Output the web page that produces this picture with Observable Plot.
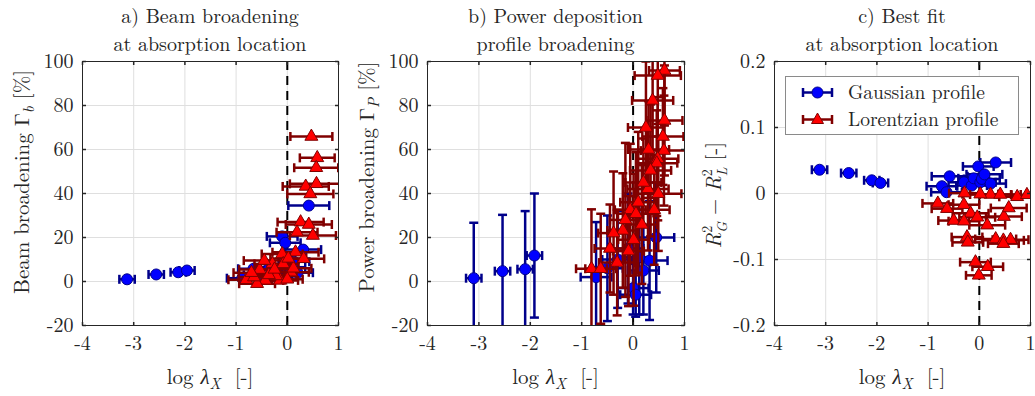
<!DOCTYPE html>
<html>
<head>
<meta charset="utf-8">
<script src="https://cdn.jsdelivr.net/npm/d3@7"></script>
<script src="https://cdn.jsdelivr.net/npm/@observablehq/plot@0.6"></script>
<style>
  html, body { margin: 0; padding: 0; background: #fff; }
  #chart { position: relative; width: 1035px; height: 396px; background: #fff; overflow: hidden;
           font-family: "Latin Modern Roman", "Liberation Serif", serif; color: #262626; }
  .panel { position: absolute; top: 0; }
  .title { position: absolute; text-align: center; font-size: 20px; line-height: 20px; height: 20px; white-space: nowrap;
           font-family: "Latin Modern Roman", "Liberation Serif", serif; }
  .legend { position: absolute; background: #fff; border: 1px solid #8a8a8a; box-sizing: border-box;
            font-family: "Latin Modern Roman", "Liberation Serif", serif; }
</style>
</head>
<body>
<div id="chart"></div>
<script>
// log λ_X axis (shared by the three panels)
const xTicks = [-4, -3, -2, -1, 0, 1];
const broadTicks = [-20, 0, 20, 40, 60, 80, 100];
const fitTicks = [-0.2, -0.1, 0, 0.1, 0.2];

// a) beam broadening Γ_b [%]: [log λ_X, error in log λ_X, Γ_b]
const beamGauss = [
  [-3.13, 0.15, 1.0], [-2.56, 0.15, 3.2], [-2.13, 0.15, 4.2], [-1.96, 0.15, 5.0],
  [-0.88, 0.30, 1.5], [-0.66, 0.30, 5.8], [-0.55, 0.30, 3.0], [-0.35, 0.30, 6.5],
  [-0.20, 0.30, 2.0], [-0.10, 0.30, 20.5], [-0.04, 0.30, 17.6], [0.05, 0.30, 6.5],
  [0.13, 0.30, 9.0], [0.20, 0.30, 4.0], [0.31, 0.35, 14.5], [0.42, 0.40, 34.5]
];
const beamLor = [
  [0.47, 0.41, 65.9], [0.585, 0.34, 56.2], [0.565, 0.43, 51.7], [0.57, 0.52, 44.4],
  [0.36, 0.45, 43.2], [0.45, 0.45, 39.8], [0.26, 0.45, 27.0], [0.42, 0.45, 25.9],
  [0.19, 0.40, 22.4], [0.50, 0.45, 20.9], [0.16, 0.45, 13.3], [0.32, 0.40, 10.3],
  [-0.10, 0.40, 12.5], [-0.54, 0.40, 5.4], [-0.80, 0.35, 0.8], [-0.43, 0.35, 0.5],
  [-0.14, 0.35, 0.5], [-0.29, 0.35, 8.0], [0.07, 0.35, 4.2], [-0.59, 0.35, -1.0],
  [-0.08, 0.30, 8.0], [-0.22, 0.40, 2.5], [0.00, 0.30, 1.0], [-0.36, 0.30, 3.0],
  [-0.65, 0.30, 2.0], [0.12, 0.35, 6.0], [-0.45, 0.40, 9.5], [-0.25, 0.35, 5.5],
  [0.02, 0.35, 10.5], [-0.70, 0.35, 4.0]
];

// b) power deposition broadening Γ_P [%]: [log λ_X, error, Γ_P, error in Γ_P]
const powGauss = [
  [-3.10, 0.15, 1.5, 25.2], [-2.54, 0.15, 4.7, 25.6], [-2.10, 0.15, 5.6, 26.4], [-1.92, 0.15, 11.8, 28.2],
  [-0.72, 0.30, 2.0, 25], [-0.50, 0.30, 6, 24], [-0.30, 0.30, 10, 22], [-0.10, 0.30, 15, 25],
  [0.00, 0.30, -3, 12], [0.05, 0.30, -6, 10], [0.12, 0.30, 11, 26], [0.20, 0.30, 5, 20],
  [0.32, 0.35, 9.5, 27], [0.45, 0.35, 20, 25]
];
const powLor = [
  [0.61, 0.30, 95.9, 25], [0.48, 0.45, 93.6, 22], [0.38, 0.40, 82.3, 28], [0.61, 0.35, 73.2, 25],
  [0.58, 0.40, 65.9, 22], [0.60, 0.45, 59.5, 25], [0.48, 0.40, 55.8, 28], [0.46, 0.40, 53.8, 24],
  [0.34, 0.40, 50.5, 30], [0.29, 0.40, 42.1, 28], [0.49, 0.45, 39.9, 26], [0.41, 0.30, 32.6, 25],
  [-0.055, 0.30, 32.6, 30], [0.056, 0.35, 30.8, 28], [0.17, 0.30, 25.9, 27], [-0.20, 0.30, 23.2, 26],
  [0.01, 0.30, 19.0, 30], [-0.09, 0.30, 13.8, 25], [-0.31, 0.35, 8.6, 24], [-0.81, 0.30, 5.8, 27],
  [-0.63, 0.30, 5.8, 25], [-0.45, 0.30, 15, 20], [0.20, 0.35, 45, 20], [0.30, 0.40, 60, 22],
  [-0.38, 0.30, 22, 28], [-0.15, 0.30, 28, 35], [0.10, 0.35, 36, 32], [0.25, 0.35, 70, 30]
];

// c) best fit R²_G − R²_L [-]: [log λ_X, error, difference]
const fitGauss = [
  [-3.12, 0.15, 0.036], [-2.55, 0.15, 0.031], [-2.10, 0.15, 0.020], [-1.93, 0.15, 0.016],
  [-0.73, 0.30, 0.011], [-0.64, 0.30, 0.002], [-0.58, 0.35, 0.026], [-0.30, 0.30, 0.017],
  [-0.15, 0.30, 0.012], [-0.11, 0.30, 0.023], [-0.02, 0.30, 0.041], [0.02, 0.30, 0.017],
  [0.05, 0.35, 0.022], [0.10, 0.35, 0.029], [0.22, 0.30, 0.015], [0.32, 0.30, 0.047]
];
const fitLor = [
  [-0.29, 0.30, 0.0005], [-0.81, 0.30, -0.015], [-0.63, 0.30, -0.023], [-0.30, 0.30, -0.017],
  [-0.17, 0.35, -0.030], [-0.50, 0.30, -0.041], [-0.30, 0.30, -0.042], [-0.04, 0.35, -0.036],
  [0.155, 0.35, -0.048], [0.48, 0.35, -0.035], [0.575, 0.35, -0.022], [0.22, 0.40, -0.0015],
  [0.41, 0.40, -0.0015], [0.74, 0.35, -0.005], [0.93, 0.30, -0.002], [0.02, 0.35, -0.001],
  [-0.24, 0.30, -0.066], [-0.225, 0.30, -0.074], [0.32, 0.40, -0.069], [0.47, 0.40, -0.071],
  [0.61, 0.35, -0.070], [0.47, 0.30, -0.076], [-0.075, 0.30, -0.104], [0.165, 0.30, -0.111],
  [-0.01, 0.25, -0.124]
];

const blueFill = "#0000ff", blueLine = "#00008b";
const redFill = "#ff0000", redLine = "#800000";
const ink = "#262626";
const font = '"Latin Modern Roman", "Liberation Serif", serif';

// custom symbols: error-bar caps and inward axis ticks (length = r)
const seg = (x0, y0, x1, y1) => ({draw(c, s) { const h = Math.sqrt(s / Math.PI); c.moveTo(x0 * h, y0 * h); c.lineTo(x1 * h, y1 * h); }});
const vCap = seg(0, -1, 0, 1);
const hCap = seg(-1, 0, 1, 0);
const tickUp = seg(0, 0, 0, -1);
const tickDown = seg(0, 0, 0, 1);
const tickRight = seg(0, 0, 1, 0);
const tickLeft = seg(0, 0, -1, 0);

function seriesMarks(data, line, fill, symbol, r, withYErr) {
  const bar = {stroke: line, strokeWidth: 2.5, clip: true};
  const cap = {r: 4.5, stroke: line, strokeWidth: 2.5, clip: true};
  const marks = [
    Plot.ruleY(data, {y: d => d[2], x1: d => d[0] - d[1], x2: d => d[0] + d[1], ...bar}),
    Plot.dot(data, {x: d => d[0] - d[1], y: d => d[2], symbol: vCap, ...cap}),
    Plot.dot(data, {x: d => d[0] + d[1], y: d => d[2], symbol: vCap, ...cap})
  ];
  if (withYErr) {
    marks.push(
      Plot.ruleX(data, {x: d => d[0], y1: d => d[2] - d[3], y2: d => d[2] + d[3], ...bar}),
      Plot.dot(data, {x: d => d[0], y: d => d[2] - d[3], symbol: hCap, ...cap}),
      Plot.dot(data, {x: d => d[0], y: d => d[2] + d[3], symbol: hCap, ...cap})
    );
  }
  marks.push(Plot.dot(data, {x: d => d[0], y: d => d[2], symbol, r, fill, stroke: line, strokeWidth: 1, clip: true}));
  return marks;
}

function panel({left, marginLeft, marginRight, yDomain, yTicks, gauss, lor, yErr}) {
  const svg = Plot.plot({
    width: 345, height: 396,
    marginLeft, marginRight, marginTop: 61, marginBottom: 71,
    x: {domain: [-4, 1]},
    y: {domain: yDomain},
    style: {fontFamily: font, fontSize: "20px", color: ink, background: "transparent", overflow: "visible"},
    marks: [
      Plot.gridX(xTicks, {stroke: "#dfdfdf", strokeOpacity: 1}),
      Plot.gridY(yTicks, {stroke: "#dfdfdf", strokeOpacity: 1}),
      Plot.ruleX([0], {stroke: "#000", strokeWidth: 2, strokeDasharray: "9,6"}),
      ...seriesMarks(gauss, blueLine, blueFill, "circle", 5.5, yErr),
      ...seriesMarks(lor, redLine, redFill, "triangle", 4.8, yErr),
      Plot.dot(xTicks, {x: d => d, frameAnchor: "bottom", symbol: tickUp, r: 3.5, stroke: ink}),
      Plot.dot(xTicks, {x: d => d, frameAnchor: "top", symbol: tickDown, r: 3.5, stroke: ink}),
      Plot.dot(yTicks, {y: d => d, frameAnchor: "left", symbol: tickRight, r: 3.5, stroke: ink}),
      Plot.dot(yTicks, {y: d => d, frameAnchor: "right", symbol: tickLeft, r: 3.5, stroke: ink}),
      Plot.axisX({ticks: xTicks, tickFormat: d => String(d), tickSize: 0, tickPadding: 10, label: null, fontFamily: font}),
      Plot.axisY({ticks: yTicks, tickFormat: d => String(d), tickSize: 0, tickPadding: 9, label: null, fontFamily: font}),
      Plot.frame({stroke: ink, strokeWidth: 1})
    ]
  });
  svg.classList.add("panel");
  svg.style.left = left + "px";
  return svg;
}

const chart = document.getElementById("chart");

const panels = [
  {left: 0, marginLeft: 82, marginRight: 7, yDomain: [-20, 100], yTicks: broadTicks, gauss: beamGauss, lor: beamLor, yErr: false,
   title: ["a) Beam broadening", "at absorption location"]},
  {left: 345, marginLeft: 82, marginRight: 6, yDomain: [-20, 100], yTicks: broadTicks, gauss: powGauss, lor: powLor, yErr: true,
   title: ["b) Power deposition", "profile broadening"]},
  {left: 690, marginLeft: 84, marginRight: 5, yDomain: [-0.2, 0.2], yTicks: fitTicks, gauss: fitGauss, lor: fitLor, yErr: false,
   title: ["c) Best fit", "at absorption location"]}
];

const svgs = panels.map(p => {
  const svg = panel(p);
  chart.appendChild(svg);
  const cx = p.left + p.marginLeft + (345 - p.marginLeft - p.marginRight) / 2;
  p.title.forEach((line, k) => {
    const t = document.createElement("div");
    t.className = "title";
    t.style.left = (cx - 150) + "px";
    t.style.width = "300px";
    t.style.top = (5 + 28 * k) + "px";
    t.textContent = line;
    chart.appendChild(t);
  });
  return svg;
});

// axis labels with sub- and superscripts
function addText(svg, x, y, rotate, parts) {
  const t = d3.select(svg).append("text")
    .attr("transform", `translate(${x},${y})` + (rotate ? " rotate(-90)" : ""))
    .attr("text-anchor", "middle")
    .attr("fill", ink)
    .attr("font-family", font)
    .attr("font-size", 21);
  parts.forEach(p => {
    const s = t.append("tspan").text(p.t);
    if (p.italic) s.attr("font-style", "italic");
    if (p.size) s.attr("font-size", p.size);
    if (p.dy) s.attr("dy", p.dy);
    if (p.dx) s.attr("dx", p.dx);
  });
}

const xLabel = [
  {t: "log "}, {t: "λ", italic: true}, {t: "X", italic: true, size: 15, dy: 5}, {t: "  [-]", dy: -5}
];
svgs.forEach((svg, i) => {
  const p = panels[i];
  const cx = p.marginLeft + (345 - p.marginLeft - p.marginRight) / 2;
  addText(svg, cx, 384, false, xLabel);
});
addText(svgs[0], 29, 182, true, [
  {t: "Beam broadening Γ"}, {t: "b", italic: true, size: 15, dy: 5}, {t: " [%]", dy: -5}
]);
addText(svgs[1], 29, 177, true, [
  {t: "Power broadening Γ"}, {t: "P", italic: true, size: 15, dy: 5}, {t: " [%]", dy: -5}
]);
addText(svgs[2], 31, 195, true, [
  {t: "R", italic: true}, {t: "2", size: 14, dy: -9}, {t: "G", italic: true, size: 14, dx: -7, dy: 15},
  {t: " − ", dy: -6}, {t: "R", italic: true}, {t: "2", size: 14, dy: -9}, {t: "L", italic: true, size: 14, dx: -7, dy: 15},
  {t: " [-]", dy: -6}
]);

// legend for panel c
const legend = document.createElement("div");
legend.className = "legend";
Object.assign(legend.style, {left: "785px", top: "76px", width: "234px", height: "59px"});
const entry = (y, line, fill, shape, label) => `
  <div style="position:absolute;left:0;top:${y}px;height:27px;width:100%;">
    <svg width="60" height="27" style="position:absolute;left:0;top:0">
      <line x1="17" x2="46" y1="13.5" y2="13.5" stroke="${line}" stroke-width="2.5"/>
      <line x1="17" x2="17" y1="9" y2="18" stroke="${line}" stroke-width="2.5"/>
      <line x1="46" x2="46" y1="9" y2="18" stroke="${line}" stroke-width="2.5"/>
      ${shape}
    </svg>
    <span style="position:absolute;left:62px;top:3px;font-size:19.5px;line-height:19px;">${label}</span>
  </div>`;
legend.innerHTML =
  entry(2, blueLine, blueFill, `<circle cx="31.5" cy="13.5" r="5.5" fill="${blueFill}" stroke="${blueLine}"/>`, "Gaussian profile") +
  entry(29, redLine, redFill, `<path d="M31.5,7 L37.5,17.5 L25.5,17.5 Z" fill="${redFill}" stroke="${redLine}"/>`, "Lorentzian profile");
chart.appendChild(legend);
</script>
</body>
</html>
